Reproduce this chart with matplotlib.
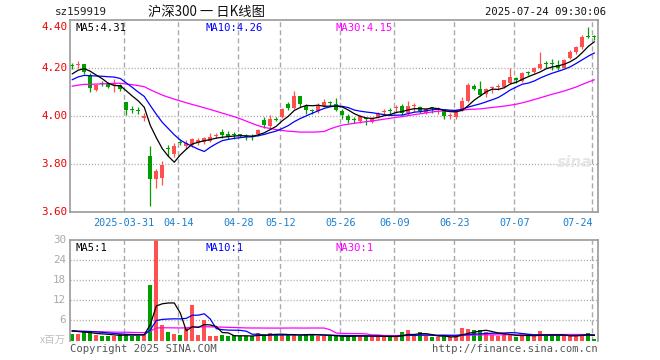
import numpy as np
import matplotlib
matplotlib.use('Agg')
import matplotlib.pyplot as plt
from matplotlib.transforms import blended_transform_factory

# ---------------- data ----------------
opens = [4.212, 4.213, 4.215, 4.172, 4.110, 4.137, 4.135, 4.128, 4.130, 4.057,
         4.028, 4.023, 3.990, 3.832, 3.739, 3.741, 3.864, 3.843, 3.892, 3.875,
         3.879, 3.886, 3.890, 3.897, 3.915, 3.935, 3.924, 3.922, 3.920, 3.916,
         3.915, 3.925, 3.983, 3.958, 3.985, 3.994, 4.050, 4.032, 4.083, 4.043,
         4.024, 4.022, 4.042, 4.055, 4.049, 4.021, 4.000, 3.985, 3.981, 3.991,
         3.976, 3.994, 4.016, 4.024, 4.033, 4.042, 4.011, 4.040, 4.036, 4.014,
         4.034, 4.027, 4.028, 3.999, 3.994, 4.025, 4.062, 4.125, 4.112, 4.092,
         4.116, 4.120, 4.122, 4.136, 4.160, 4.146, 4.180, 4.182, 4.199, 4.217,
         4.217, 4.212, 4.201, 4.240, 4.268, 4.289, 4.332, 4.330]
highs = [4.222, 4.229, 4.216, 4.179, 4.132, 4.145, 4.140, 4.154, 4.135, 4.060,
         4.040, 4.036, 4.012, 3.876, 3.779, 3.814, 3.880, 3.887, 3.904, 3.900,
         3.910, 3.910, 3.914, 3.928, 3.928, 3.944, 3.939, 3.935, 3.927, 3.924,
         3.924, 3.946, 3.997, 4.004, 3.994, 4.032, 4.060, 4.104, 4.083, 4.050,
         4.029, 4.053, 4.071, 4.064, 4.074, 4.028, 4.008, 3.994, 4.004, 3.997,
         3.997, 4.018, 4.028, 4.032, 4.046, 4.050, 4.063, 4.053, 4.042, 4.032,
         4.039, 4.036, 4.028, 4.011, 4.028, 4.080, 4.136, 4.133, 4.146, 4.115,
         4.125, 4.132, 4.150, 4.199, 4.164, 4.182, 4.188, 4.206, 4.265, 4.229,
         4.237, 4.233, 4.237, 4.275, 4.293, 4.337, 4.372, 4.337]
lows = [4.196, 4.199, 4.174, 4.099, 4.103, 4.124, 4.117, 4.099, 4.103, 4.003,
        4.012, 4.007, 3.980, 3.623, 3.700, 3.711, 3.832, 3.829, 3.880, 3.861,
        3.872, 3.879, 3.883, 3.893, 3.907, 3.907, 3.903, 3.903, 3.914, 3.900,
        3.900, 3.915, 3.948, 3.948, 3.978, 3.990, 4.025, 4.028, 4.039, 4.008,
        4.008, 4.014, 4.039, 4.042, 4.022, 3.986, 3.972, 3.969, 3.969, 3.962,
        3.972, 3.990, 4.004, 4.008, 4.011, 4.004, 4.004, 4.018, 4.011, 4.008,
        4.011, 4.008, 3.986, 3.986, 3.986, 4.022, 4.060, 4.108, 4.084, 4.081,
        4.097, 4.108, 4.115, 4.132, 4.136, 4.142, 4.171, 4.178, 4.196, 4.201,
        4.192, 4.192, 4.199, 4.237, 4.260, 4.279, 4.323, 4.318]
closes = [4.208, 4.217, 4.182, 4.115, 4.130, 4.133, 4.121, 4.135, 4.112, 4.024,
          4.024, 4.020, 4.001, 3.736, 3.769, 3.794, 3.862, 3.876, 3.889, 3.886,
          3.903, 3.900, 3.907, 3.912, 3.917, 3.921, 3.914, 3.919, 3.919, 3.914,
          3.913, 3.942, 3.962, 3.986, 3.983, 4.028, 4.035, 4.083, 4.049, 4.025,
          4.022, 4.046, 4.060, 4.053, 4.025, 4.004, 3.983, 3.983, 4.000, 3.989,
          3.993, 4.007, 4.018, 4.022, 4.035, 4.011, 4.042, 4.042, 4.022, 4.028,
          4.032, 4.029, 4.000, 4.001, 4.026, 4.062, 4.129, 4.113, 4.088, 4.112,
          4.118, 4.122, 4.150, 4.164, 4.149, 4.178, 4.178, 4.199, 4.215, 4.215,
          4.215, 4.201, 4.233, 4.268, 4.289, 4.330, 4.330, 4.328]
volumes = [2.0, 2.0, 2.4, 2.4, 1.7, 1.4, 1.4, 1.4, 1.9, 2.0,
           1.4, 1.4, 2.0, 16.7, 30.0, 4.7, 2.6, 2.0, 1.7, 3.6,
           10.6, 1.7, 6.1, 1.2, 1.2, 1.7, 1.2, 1.7, 1.2, 1.2,
           1.4, 2.1, 1.9, 2.2, 1.6, 1.6, 1.6, 1.8, 1.4, 1.9,
           1.9, 1.4, 1.4, 1.2, 1.2, 1.2, 1.2, 1.7, 1.4, 1.2,
           1.2, 1.2, 1.2, 1.2, 1.2, 2.4, 3.0, 1.2, 2.4, 1.2,
           0.9, 0.9, 1.4, 1.0, 1.4, 3.6, 3.3, 3.0, 3.0, 2.4,
           1.6, 1.2, 1.9, 2.0, 0.9, 1.4, 1.4, 1.4, 2.7, 1.4,
           1.4, 1.4, 1.4, 1.4, 1.4, 2.0, 2.3, 0.5]
# closes / volumes of the sessions before the first visible candle (for the moving averages)
prior_closes = [4.08, 4.09, 4.10, 4.11, 4.10, 4.09, 4.10, 4.11, 4.12, 4.10,
                4.14, 4.13, 4.12, 4.11, 4.12, 4.13, 4.12, 4.11, 4.12, 4.11,
                4.10, 4.12, 4.13, 4.14, 4.145, 4.14, 4.15, 4.17, 4.21]
prior_volumes = [5.0, 4.5, 4.5, 4.0, 2.7, 2.9, 2.6, 2.5, 2.7, 2.8,
                 2.6, 2.7, 2.5, 2.6, 2.8, 2.7, 2.6, 2.5, 2.7, 2.6,
                 2.8, 2.7, 2.6, 2.5, 2.9, 3.0, 3.2, 3.1, 3.1]
tick_idx = [9, 18, 28, 35, 45, 54, 64, 74, 87]
tick_labels = ['2025-03-31', '04-14', '04-28', '05-12', '05-26', '06-09', '06-23', '07-07', '07-24']
price_ticks = [4.40, 4.20, 4.00, 3.80, 3.60]
vol_ticks = [6, 12, 18, 24, 30]

# ---------------- helpers ----------------
def moving_avg(prior, vals, n):
    full = np.array(list(prior) + list(vals), dtype=float)
    p = len(prior)
    return np.array([full[p + i - n + 1:p + i + 1].mean() for i in range(len(vals))])

W, H = 660, 360
fig = plt.figure(figsize=(6.6, 3.6), dpi=100)
fig.patch.set_facecolor('white')

def fx(px):
    return px / W

def fy(py):
    return 1 - py / H

RED = '#ff5050'
GREEN = '#009f00'
GRID = '#aaaaaa'
FRAME = '#999999'
MONO = ['DejaVu Sans Mono']
CJK = ['Noto Sans CJK SC', 'DejaVu Sans']

o = np.array(opens); h = np.array(highs); l = np.array(lows); c = np.array(closes)
v = np.array(volumes)
n = len(c)
x = np.arange(n)
up = c >= o
cols = [RED if u else GREEN for u in up]

xlim = (-0.38, 87.62)

# ---------------- price panel ----------------
ax = fig.add_axes([fx(70), fy(212), fx(598) - fx(70), (212 - 20) / H])
ax.set_xlim(*xlim)
ax.set_ylim(3.60, 4.40)
for s in ax.spines.values():
    s.set_color(FRAME)
    s.set_linewidth(1.2)
ax.set_xticks([]); ax.set_yticks([])

for t in tick_idx:
    ax.axvline(t - 0.33, color=GRID, lw=1.0, ls=(0, (3.6, 2.2)), zorder=0)
for p in price_ticks[1:-1]:
    ax.axhline(p, color=GRID, lw=1.0, ls=(0, (0.8, 1.4)), zorder=0)

ax.vlines(x, l, h, colors=cols, lw=0.9, zorder=2)
body_bot = np.minimum(o, c)
body_h = np.maximum(np.abs(c - o), 0.0045)
ax.bar(x, body_h, bottom=body_bot, width=0.72, color=cols, edgecolor='none', zorder=2)

ma5 = moving_avg(prior_closes, closes, 5)
ma10 = moving_avg(prior_closes, closes, 10)
ma30 = moving_avg(prior_closes, closes, 30)
ax.plot(x, ma30, color='#ff00ff', lw=0.9, zorder=3)
ax.plot(x, ma10, color='#0000ff', lw=0.9, zorder=3)
ax.plot(x, ma5, color='black', lw=0.9, zorder=3)

ax.text(0.01, 0.985, f'MA5:{ma5[-1]:.2f}', transform=ax.transAxes, family=MONO,
        fontsize=7.6, color='black', va='top', ha='left')
ax.text((205 - 70) / 528, 0.985, f'MA10:{ma10[-1]:.2f}', transform=ax.transAxes,
        family=MONO, fontsize=7.6, color='#0000ff', va='top', ha='left')
ax.text((335 - 70) / 528, 0.985, f'MA30:{ma30[-1]:.2f}', transform=ax.transAxes,
        family=MONO, fontsize=7.6, color='#ff00ff', va='top', ha='left')

# sina watermark
ax.text(0.955, 0.26, 'sina', transform=ax.transAxes, fontsize=11, color='#e6e6e6',
        style='italic', weight='bold', ha='center', va='center', zorder=1)

for p in price_ticks:
    py = 20 + (4.40 - p) * 240
    if p == price_ticks[0]:
        py += 7
    fig.text(fx(67), fy(py), f'{p:.2f}', family=MONO, fontsize=7.8,
             color='#ee0000', ha='right', va='center')

tr = blended_transform_factory(ax.transData, ax.transAxes)
for t, lab in zip(tick_idx, tick_labels):
    xpos = t - 0.33
    if lab == '07-24':
        xpos = 84.2
    ax.text(xpos, -0.055, lab, transform=tr, family=MONO, fontsize=7.3,
            color='#1a7fd0', ha='center', va='center', clip_on=False)

# ---------------- volume panel ----------------
axv = fig.add_axes([fx(70), fy(340.5), fx(598) - fx(70), (340.5 - 240) / H])
axv.set_xlim(*xlim)
axv.set_ylim(0, 30)
for s in axv.spines.values():
    s.set_color(FRAME)
    s.set_linewidth(1.2)
axv.spines['bottom'].set_visible(False)
axv.set_xticks([]); axv.set_yticks([])
for t in tick_idx:
    axv.axvline(t - 0.33, color=GRID, lw=1.0, ls=(0, (3.6, 2.2)), zorder=0)
for q in vol_ticks[:-1]:
    axv.axhline(q, color=GRID, lw=1.0, ls=(0, (0.8, 1.4)), zorder=0)

axv.bar(x, v, width=0.72, color=cols, edgecolor='none', zorder=2)
vma5 = moving_avg(prior_volumes, volumes, 5)
vma10 = moving_avg(prior_volumes, volumes, 10)
vma30 = moving_avg(prior_volumes, volumes, 30)
axv.plot(x, vma30, color='#ff00ff', lw=0.9, zorder=3)
axv.plot(x, vma10, color='#0000ff', lw=0.9, zorder=3)
axv.plot(x, vma5, color='black', lw=0.9, zorder=3)

axv.text(0.01, 0.975, f'MA5:{int(vma5[-1])}', transform=axv.transAxes, family=MONO,
         fontsize=7.6, color='black', va='top', ha='left')
axv.text((205 - 70) / 528, 0.975, f'MA10:{int(vma10[-1])}', transform=axv.transAxes,
         family=MONO, fontsize=7.6, color='#0000ff', va='top', ha='left')
axv.text((335 - 70) / 528, 0.975, f'MA30:{int(vma30[-1])}', transform=axv.transAxes,
         family=MONO, fontsize=7.6, color='#ff00ff', va='top', ha='left')

for q in vol_ticks:
    py = 340.5 - q * (100.5 / 30)
    fig.text(fx(66), fy(py), f'{q}', family=MONO, fontsize=7.8, color='#aaaaaa',
             ha='right', va='center')
fig.text(fx(66), fy(340), 'x百万', family=CJK, fontsize=7.5, color='#c0c0c0',
         ha='right', va='center')

# ---------------- header / footer ----------------
fig.text(fx(55), fy(12), 'sz159919', family=MONO, fontsize=7.8, color='#222222',
         ha='left', va='center')
fig.text(fx(148), fy(12), '沪深300 一 日K线图', family=CJK, fontsize=9.6, color='#111111',
         ha='left', va='center')
fig.text(fx(606), fy(12), '2025-07-24 09:30:06', family=MONO, fontsize=7.6,
         color='#111111', ha='right', va='center')
fig.text(fx(70), fy(349), 'Copyright 2025 SINA.COM', family=MONO, fontsize=7.6,
         color='#555555', ha='left', va='center')
fig.text(fx(598), fy(349), 'http://finance.sina.com.cn', family=MONO, fontsize=7.6,
         color='#555555', ha='right', va='center')

fig.savefig('out.png', dpi=100, facecolor='white')
